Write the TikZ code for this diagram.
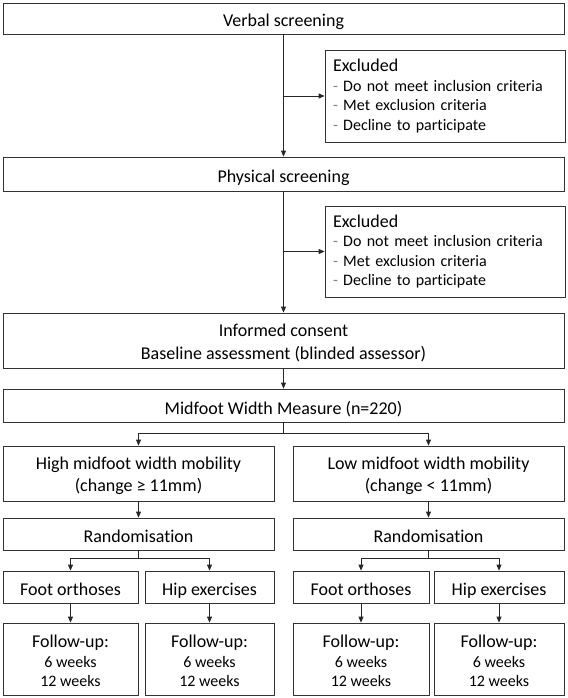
\documentclass[tikz,border=0pt]{standalone}
\usepackage{fontspec}
\setmainfont{Carlito}[Ligatures=CommonOff]
\usetikzlibrary{arrows.meta}
\tikzset{
	box/.style={draw=black!80,line width=.8pt,rectangle,inner sep=0pt,align=center,font=\fontsize{18}{22.5}\selectfont},
	onebox/.style={box,text height=17pt,text depth=0pt},
	exclbox/.style={box,align=left,text width=224pt,minimum width=240pt,font=\smalltext},
	fupbox/.style={box,minimum height=72pt,font=\fontsize{18}{19.5}\selectfont},
	arr/.style={-{Triangle[length=6pt,width=5pt]},line width=.8pt,black!85},
	line/.style={line width=.8pt,black!85}
}
\newcommand{\smalltext}{\fontsize{16}{19.5}\selectfont}
\newcommand{\bigtext}{\fontsize{18}{19.5}\selectfont}
\newcommand{\fstrut}{\rule{0pt}{17pt}}
\newcommand{\dashitem}{{\color{black!50}-} }
\begin{document}
\begin{tikzpicture}[x=1pt,y=-1pt]
	\useasboundingbox (0,0) rectangle (567,698);
	\node [onebox,minimum width=561pt,minimum height=31pt] (verbal) at (283.5,18.5) {Verbal screening};
	\node [exclbox,minimum height=92pt] (excla) at (445,96) {{\bigtext Excluded}\\\dashitem Do not meet inclusion criteria\\\dashitem Met exclusion criteria\\\dashitem Decline to participate};
	\node [onebox,minimum width=561pt,minimum height=34pt] (physical) at (283.5,174) {Physical screening};
	\node [exclbox,minimum height=91pt] (exclb) at (445,251.5) {{\bigtext Excluded}\\\dashitem Do not meet inclusion criteria\\\dashitem Met exclusion criteria\\\dashitem Decline to participate};
	\node [box,minimum width=561pt,minimum height=55pt] (consent) at (283.5,340.5) {\fstrut Informed consent\\Baseline assessment (blinded assessor)};
	\node [onebox,minimum width=561pt,minimum height=33pt] (measure) at (283.5,405.5) {Midfoot Width Measure (n=220)};

	\node [box,minimum width=271pt,minimum height=55pt] (high) at (138.5,473.5) {\fstrut High midfoot width mobility\\(change ≥ 11mm)};
	\node [box,minimum width=271pt,minimum height=55pt] (low) at (428.5,473.5) {\fstrut Low midfoot width mobility\\(change < 11mm)};
	\node [onebox,minimum width=271pt,minimum height=32pt] (randl) at (138.5,534) {Randomisation};
	\node [onebox,minimum width=271pt,minimum height=32pt] (randr) at (428.5,534) {Randomisation};

	\node [onebox,minimum width=135pt,minimum height=32pt] (footl) at (70.5,587) {Foot orthoses};
	\node [onebox,minimum width=129pt,minimum height=32pt] (hipl) at (209.5,587) {Hip exercises};
	\node [onebox,minimum width=136pt,minimum height=32pt] (footr) at (361,587) {Foot orthoses};
	\node [onebox,minimum width=130pt,minimum height=32pt] (hipr) at (499,587) {Hip exercises};

	\node [fupbox,minimum width=135pt] (fupa) at (70.5,659) {\fstrut Follow-up:\\\smalltext 6 weeks\\\smalltext 12 weeks};
	\node [fupbox,minimum width=129pt] (fupb) at (209.5,659) {\fstrut Follow-up:\\\smalltext 6 weeks\\\smalltext 12 weeks};
	\node [fupbox,minimum width=136pt] (fupc) at (361,659) {\fstrut Follow-up:\\\smalltext 6 weeks\\\smalltext 12 weeks};
	\node [fupbox,minimum width=130pt] (fupd) at (499,659) {\fstrut Follow-up:\\\smalltext 6 weeks\\\smalltext 12 weeks};

	% screening
	\draw [arr] (verbal) -- (physical);
	\draw [arr] (verbal.south |- excla.west) -- (excla.west);
	\draw [arr] (physical) -- (consent);
	\draw [arr] (physical.south |- exclb.west) -- (exclb.west);
	\draw [arr] (consent) -- (measure);

	% split by mobility
	\coordinate (splitm) at (283.5,433);
	\draw [line] (measure) -- (splitm);
	\draw [arr] (splitm) -| (high);
	\draw [arr] (splitm) -| (low);
	\draw [arr] (high) -- (randl);
	\draw [arr] (low) -- (randr);

	% randomisation
	\coordinate (splitl) at (138.5,558);
	\coordinate (splitr) at (428.5,558);
	\draw [line] (randl) -- (splitl);
	\draw [line] (randr) -- (splitr);
	\draw [arr] (splitl) -| (footl);
	\draw [arr] (splitl) -| (hipl);
	\draw [arr] (splitr) -| (footr);
	\draw [arr] (splitr) -| (hipr);

	\draw [arr] (footl) -- (fupa);
	\draw [arr] (hipl) -- (fupb);
	\draw [arr] (footr) -- (fupc);
	\draw [arr] (hipr) -- (fupd);
\end{tikzpicture}
\end{document}
